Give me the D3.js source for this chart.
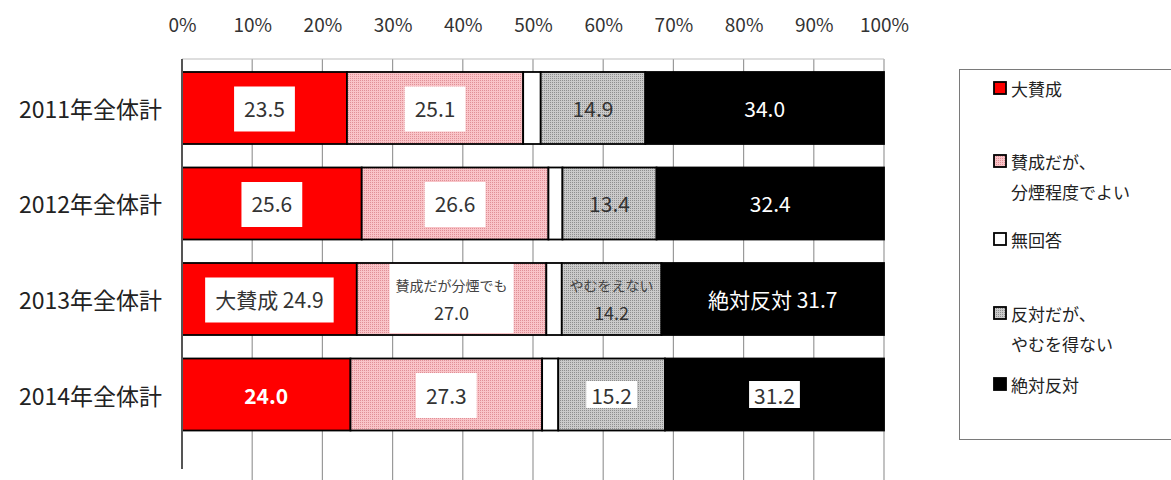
<!DOCTYPE html>
<html><head><meta charset="utf-8">
<script src="https://cdn.jsdelivr.net/npm/d3@7/dist/d3.min.js"></script>
<style>
html,body{margin:0;padding:0;background:#fff;}
svg{display:block;font-family:"Noto Sans CJK JP","Noto Sans",sans-serif;}
</style></head>
<body><svg id="c" width="1171" height="480"></svg>
<script>
// ---- data ----
const categories = ["2011年全体計","2012年全体計","2013年全体計","2014年全体計"];
const seriesNames = ["大賛成","賛成だが、分煙程度でよい","無回答","反対だが、やむを得ない","絶対反対"];
const legendLines = [["大賛成"],["賛成だが、","分煙程度でよい"],["無回答"],["反対だが、","やむを得ない"],["絶対反対"]];
const daisansei    = [23.5, 25.6, 24.9, 24.0];
const sanseiBunen  = [25.1, 26.6, 27.0, 27.3];
const mukaitou     = [2.5, 2.0, 2.2, 2.3];
const hantaiYamu   = [14.9, 13.4, 14.2, 15.2];
const zettaiHantai = [34.0, 32.4, 31.7, 31.2];
const tickValues = [0,10,20,30,40,50,60,70,80,90,100];
const tickLabels = ["0%","10%","20%","30%","40%","50%","60%","70%","80%","90%","100%"];
// label text prefixes used on the 2013 row
const prefixes2013 = ["大賛成 ","賛成だが分煙でも",null,"やむをえない","絶対反対 "];

const seriesValues = [daisansei, sanseiBunen, mukaitou, hantaiYamu, zettaiHantai];

// ---- label styles (presentation) ----
const labelStyle = [
  ["box","box",null,"plain","white"],
  ["box","box",null,"plain","white"],
  ["box","box2",null,"plain2","white"],
  ["bold","box",null,"small","small"]
];

const svg = d3.select("#c");
const defs = svg.append("defs");
function dotPattern(id, base, dot){
  const p = defs.append("pattern").attr("id",id).attr("patternUnits","userSpaceOnUse")
    .attr("width",2).attr("height",2);
  p.append("rect").attr("width",2).attr("height",2).attr("fill",base);
  p.append("rect").attr("width",1).attr("height",1).attr("fill",dot);
}
dotPattern("pinkDots","#f9c4c8","#e08f96");
dotPattern("grayDots","#cacaca","#8e8e8e");
const fills = ["#ff0000","url(#pinkDots)","#ffffff","url(#grayDots)","#000000"];

const x = d3.scaleLinear().domain([0,100]).range([182,884]);
const y = d3.scaleBand().domain(categories).range([48.5,454]).padding(0.246);

// gridlines
svg.append("g").selectAll("line").data(tickValues.slice(1)).join("line")
  .attr("x1",d=>x(d)).attr("x2",d=>x(d)).attr("y1",59).attr("y2",480)
  .attr("stroke","#9a9a9a").attr("stroke-width",1.2);
svg.append("line").attr("x1",x(0)).attr("x2",x(100)).attr("y1",59).attr("y2",59)
  .attr("stroke","#bdbdbd").attr("stroke-width",1);

// top axis labels
const axis = d3.axisTop(x).tickValues(tickValues).tickSize(0).tickPadding(0)
  .tickFormat((d,i)=>tickLabels[i]);
const ag = svg.append("g").attr("transform","translate(0,32)").call(axis);
ag.select(".domain").remove();
ag.selectAll("text").attr("font-size",19).attr("fill","#333")
  .attr("font-family","'Noto Sans CJK JP',sans-serif");

// stacked bars
const stackData = categories.map((c,i)=>{
  let acc = 0;
  return seriesValues.map((s,j)=>{ const v = s[i]; const r = {row:i, ser:j, cat:c, x0:acc, x1:acc+v, v}; acc += v; return r; });
});
const bars = svg.append("g");
stackData.forEach(row=>{
  bars.selectAll(null).data(row).join("rect")
    .attr("x",d=>x(d.x0)).attr("width",d=>x(d.x1)-x(d.x0))
    .attr("y",d=>y(d.cat)).attr("height",y.bandwidth())
    .attr("fill",d=>fills[d.ser]).attr("stroke","#000").attr("stroke-width",1.8);
});

// left axis line
svg.append("line").attr("x1",x(0)).attr("x2",x(0)).attr("y1",59).attr("y2",469)
  .attr("stroke","#555").attr("stroke-width",2);

// category labels
svg.append("g").selectAll("text").data(categories).join("text")
  .attr("x",162).attr("y",d=>y(d)+y.bandwidth()/2).attr("text-anchor","end")
  .attr("dominant-baseline","central").attr("font-size",23).attr("fill","#222").text(d=>d);

// segment labels
const lg = svg.append("g");
stackData.forEach((row,i)=>{
  row.forEach(d=>{
    const st = labelStyle[i][d.ser];
    if(!st) return;
    const cx = (x(d.x0)+x(d.x1))/2, cy = y(d.cat)+y.bandwidth()/2;
    const val = d.v.toFixed(1);
    const pre = (categories[i].startsWith("2013") ? prefixes2013[d.ser] : null);
    if(st==="box2" || st==="plain2"){
      if(st==="box2"){
        lg.append("rect").attr("x",cx-62).attr("y",cy-35).attr("width",124).attr("height",69).attr("fill","#fff");
      }
      lg.append("text").attr("x",cx).attr("y",cy-14).attr("text-anchor","middle").attr("dominant-baseline","central")
        .attr("font-size",14).attr("fill","#444").text(pre);
      lg.append("text").attr("x",cx).attr("y",cy+13).attr("text-anchor","middle").attr("dominant-baseline","central")
        .attr("font-size",18).attr("fill","#333").text(val);
      return;
    }
    const label = (pre||"") + val;
    const t = lg.append("text").attr("x",cx).attr("y",cy).attr("text-anchor","middle").attr("dominant-baseline","central")
      .attr("font-size",21).text(label);
    if(st==="white"){ t.attr("fill","#fff"); }
    else if(st==="bold"){ t.attr("fill","#fff").attr("font-weight","bold"); }
    else { t.attr("fill","#333"); }
    if(st==="box" || st==="small"){
      const w = t.node().getComputedTextLength();
      const pad = st==="box" ? 10 : 5, h = st==="box" ? 45 : 27;
      lg.insert("rect", function(){ return t.node(); })
        .attr("x",cx-w/2-pad).attr("y",cy-h/2+(st==="box"?1:0)).attr("width",w+2*pad).attr("height",h).attr("fill","#fff");
    }
  });
});

// legend
svg.append("rect").attr("x",959.5).attr("y",69.5).attr("width",230).attr("height",370)
  .attr("fill","#fff").attr("stroke","#7a7a7a").attr("stroke-width",1);
const legendY = [88, 161, 239, 313, 384];
const leg = svg.append("g");
seriesNames.forEach((n,j)=>{
  leg.append("rect").attr("x",994).attr("y",legendY[j]-6).attr("width",12).attr("height",12)
    .attr("fill",fills[j]).attr("stroke","#000").attr("stroke-width",1.8);
  legendLines[j].forEach((ln,k)=>{
    leg.append("text").attr("x",1011).attr("y",legendY[j]+k*30).attr("dominant-baseline","central")
      .attr("font-size",17).attr("fill","#222").text(ln);
  });
});
</script></body></html>
